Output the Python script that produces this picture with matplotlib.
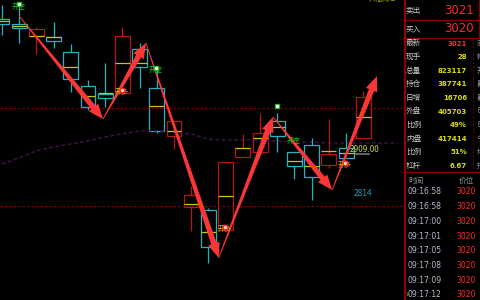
import numpy as np
import matplotlib
matplotlib.use("Agg")
import matplotlib.pyplot as plt
from matplotlib.patches import Polygon, Rectangle

plt.rcParams['font.family'] = ['Noto Sans CJK SC', 'DejaVu Sans']

# candle data (price units)
opens = [3216, 3205, 3177, 3175, 3140, 3062, 3044, 3046, 3147, 3058, 2947,
         2784, 2777, 2731, 2899, 2910, 2982, 2910, 2926, 2880, 2920, 2943]
highs = [3249, 3249, 3198, 3209, 3159, 3076, 3115, 3198, 3161, 3106, 2982,
         2832, 2782, 2887, 2952, 3000, 3000, 2910, 2943, 2986, 2954, 3051]
lows = [3180, 3161, 3136, 3150, 3048, 3007, 3014, 3046, 3058, 2954, 2917,
        2729, 2655, 2731, 2899, 2910, 2910, 2848, 2800, 2874, 2897, 2943]
closes = [3205, 3196, 3193, 3166, 3078, 3014, 3035, 3177, 3106, 2959, 2982,
          2812, 2692, 2887, 2920, 2954, 2947, 2878, 2853, 2906, 2897, 3037]
avgs = [3212, 3200, 3177, 3175, 3106, 3039, 3045, 3115, 3115, 3016, 2959,
        2791, 2726, 2809, 2920, 2943, 2968, 2890, 2878, 2913, 2908, 2991]

# moving average (purple dashed)
ma_vals = [2883, 2897, 2913, 2922, 2929, 2936, 2945, 2952, 2959, 2959, 2956, 2952,
           2940, 2938, 2938, 2938, 2936, 2933, 2933, 2931, 2931, 2931, 2931, 2931]

# zig-zag swing points for the arrows
swing_x = [1.0, 5.87, 8.37, 12.6, 15.76, 19.19, 21.8]
swing_p = [3223, 2986, 3161, 2667, 2991, 2823, 3085]

# signals
short_x = [0.99, 8.95, 16.98]
short_p = [3244, 3099, 2936]
short_mark_x = [0.99, 8.95, 15.99]
short_mark_p = [3251, 3104, 3016]
long_x = [6.98, 12.97, 19.94]
long_p = [3048, 2733, 2880]

level_lines = [3012, 2786]

# right panel
ask_price, bid_price = '3021', '3020'
quote_labels = ['最新', '现手', '总量', '持仓', '日增', '外盘', '比例', '内盘', '比例', '杠杆']
quote_values = ['3021', '28', '823117', '387741', '16706', '405703', '49%', '417414', '51%', '6.67']
cut_chars = ['涨', '幅', '开', '最', '最', '昨', '昨', '今', '均', '持']
tick_times = ['09:16:58', '09:16:58', '09:17:00', '09:17:01',
              '09:17:05', '09:17:08', '09:17:09', '09:17:12']
tick_prices = ['3020', '3020', '3020', '3020', '3020', '3020', '3020', '3020']

CYAN = '#22b4bf'
RED = '#b81414'
YEL = '#c8c800'
ARROW = '#fa3636'

fig = plt.figure(figsize=(4.8, 3), dpi=100, facecolor='black')
ax = fig.add_axes([0, 0, 404 / 480, 1])
ax.set_facecolor('black')
ax.set_xlim(-0.116, 23.37)
ax.set_ylim(2570, 3260)
ax.axis('off')

for p in level_lines:
    ax.axhline(p, color='#8a0000', lw=0.8, ls=(0, (2, 2)))

ax.plot(range(len(ma_vals)), ma_vals, color='#4a1450', lw=0.9, ls=(0, (3, 2)))

w = 0.87
for i in range(len(opens)):
    o, h, l, c = opens[i], highs[i], lows[i], closes[i]
    col = RED if c > o else CYAN
    top, bot = max(o, c), min(o, c)
    if h > top:
        ax.vlines(i, top, h, color=col, lw=0.9)
    if l < bot:
        ax.vlines(i, l, bot, color=col, lw=0.9)
    ax.add_patch(Rectangle((i - w / 2, bot), w, top - bot, fill=False,
                           edgecolor=col, lw=0.9))
    ax.hlines(avgs[i], i - w / 2, i + w / 2, color=YEL, lw=0.9)


def draw_arrow(p0, p1):
    a = ax.transData.transform(p0)
    b = ax.transData.transform(p1)
    d = b - a
    u = d / np.hypot(*d)
    n = np.array([-u[1], u[0]])
    head_len, head_w, w0, w1 = 15, 6.0, 0.4, 2.8
    base = b - u * head_len
    pts = [a + n * w0, base + n * w1, base + n * head_w, b,
           base - n * head_w, base - n * w1, a - n * w0]
    pts = ax.transData.inverted().transform(np.array(pts))
    ax.add_patch(Polygon(pts, closed=True, facecolor=ARROW, edgecolor='none', zorder=5))


for k in range(len(swing_x) - 1):
    draw_arrow((swing_x[k], swing_p[k]), (swing_x[k + 1], swing_p[k + 1]))

for x, p in zip(short_x, short_p):
    ax.text(x, p, '开空', color='#19c819', fontsize=5, ha='center', va='center', zorder=6)
ax.scatter(short_mark_x, short_mark_p, marker='s', s=12, color='#19b419', zorder=7)
ax.scatter(short_mark_x, short_mark_p, marker='o', s=2, color='white', zorder=8)

for x, p in zip(long_x, long_p):
    ax.text(x, p, '开多', color='#c8c800', fontsize=5, ha='center', va='center', zorder=6)
ax.scatter(long_x, [p + 5 for p in long_p], marker='o', s=12, color='#ff2020', zorder=7)
ax.scatter(long_x, [p + 5 for p in long_p], marker='o', s=2, color='#ffd0d0', zorder=8)

ax.text(20.23, 2916, '2909.00', color='#c8c850', fontsize=6, ha='left', va='center', zorder=4)
ax.hlines(2906, 20.52, 21.4, color='#606060', lw=1.5, zorder=3)
ax.text(20.47, 2814, '2814', color='#20a0b0', fontsize=6, ha='left', va='center')
ax.text(22.15, 3262, '大幅减仓', color='#a0a020', fontsize=5, ha='center', va='center')

# right quote panel, pixel layout
pn = fig.add_axes([404 / 480, 0, 76 / 480, 1])
pn.set_xlim(404, 480)
pn.set_ylim(300, 0)
pn.axis('off')
pn.axvline(404.5, color='#b00000', lw=1.2)
for yy in [20, 37.5, 172]:
    pn.axhline(yy, color='#8a0000', lw=0.9)
pn.vlines(479, 0, 37.5, color='#8a0000', lw=0.9)
pn.vlines(473, 38, 171, color='#7a0000', lw=0.7, ls=(0, (2, 2)))

LBL = '#c8c8c8'
pn.text(406, 11, '卖出', color=LBL, fontsize=5.5, va='center')
pn.text(406, 29, '买入', color=LBL, fontsize=5.5, va='center')
pn.text(474, 11, ask_price, color='#ff2828', fontsize=8.5, ha='right', va='center', family='DejaVu Sans')
pn.text(474, 29, bid_price, color='#ff2828', fontsize=8.5, ha='right', va='center', family='DejaVu Sans')

for k, (lab, val) in enumerate(zip(quote_labels, quote_values)):
    yy = 43.5 + 13.6 * k
    pn.text(406, yy, lab, color=LBL, fontsize=5.5, va='center')
    vc = '#ff2828' if k == 0 else '#dcdc00'
    pn.text(467, yy, val, color=vc, fontsize=5, ha='right', va='center',
            family='DejaVu Sans', fontweight='bold')
    pn.text(477, yy, cut_chars[k], color='#a0a0a0', fontsize=5, ha='left', va='center')

pn.text(408, 181, '时间', color='#909090', fontsize=5.5, va='center')
pn.text(474, 181, '价位', color='#909090', fontsize=5.5, ha='right', va='center')
for k, (t, pr) in enumerate(zip(tick_times, tick_prices)):
    yy = 192 + 14.7 * k
    pn.text(408, yy, t, color='#b4bccc', fontsize=5.5, va='center', family='DejaVu Sans')
    pn.text(476, yy, pr, color='#ff2828', fontsize=5.5, ha='right', va='center', family='DejaVu Sans')
pn.text(405, 192 + 14.7 * 7, '›', color='#c8c800', fontsize=6, va='center', family='DejaVu Sans')

fig.savefig('out.png', dpi=100, facecolor='black')
